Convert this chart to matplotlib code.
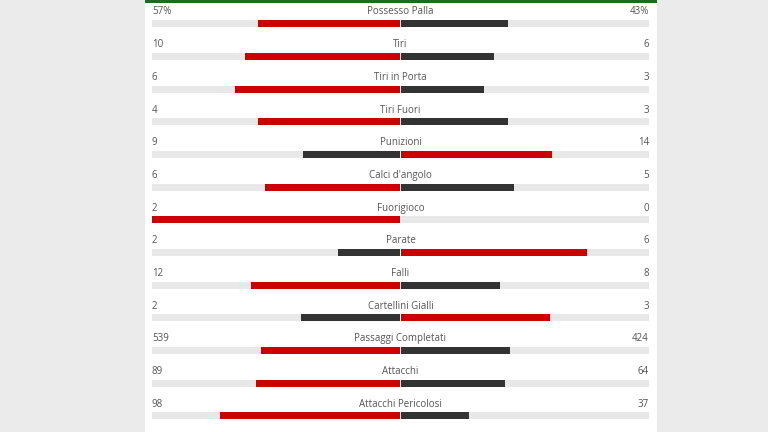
import matplotlib
matplotlib.use("Agg")
import matplotlib.pyplot as plt
from matplotlib.patches import Rectangle

categories = ["Possesso Palla", "Tiri", "Tiri in Porta", "Tiri Fuori", "Punizioni",
              "Calci d'angolo", "Fuorigioco", "Parate", "Falli", "Cartellini Gialli",
              "Passaggi Completati", "Attacchi", "Attacchi Pericolosi"]
home_values = [57, 10, 6, 4, 9, 6, 2, 2, 12, 2, 539, 89, 98]
away_values = [43, 6, 3, 3, 14, 5, 0, 6, 8, 3, 424, 64, 37]
home_labels = ["57%", "10", "6", "4", "9", "6", "2", "2", "12", "2", "539", "89", "98"]
away_labels = ["43%", "6", "3", "3", "14", "5", "0", "6", "8", "3", "424", "64", "37"]

RED = "#cc0000"
DARK = "#333333"
TRACK = "#e8e8e8"
OUTER = "#ebebeb"
GREEN = "#1e6b1e"
TEXT = "#555555"

W, H = 768, 432
fig = plt.figure(figsize=(W / 100, H / 100), dpi=100)
fig.patch.set_facecolor(OUTER)

# background panel
bg = fig.add_axes([0, 0, 1, 1])
bg.set_xlim(0, W)
bg.set_ylim(H, 0)
bg.axis("off")
bg.add_patch(Rectangle((145, 0), 512, H, facecolor="white", edgecolor="none"))
bg.add_patch(Rectangle((145, 0), 512, 2.5, facecolor=GREEN, edgecolor="none"))

# data axes over the track area
x0, x1 = 152, 649
ax = fig.add_axes([x0 / W, 0, (x1 - x0) / W, 1])
ax.set_facecolor("none")
ax.axis("off")
row_h = 32.67
top_off = 23.8
ax.set_xlim(-1.0, 1.0)
ax.set_ylim((H - top_off) / row_h, -top_off / row_h)

gap = 0.004
bh = 7 / row_h
n = len(categories)
ys = list(range(n))

ax.barh(ys, [-(1 - gap)] * n, left=-gap, height=bh, color=TRACK)
ax.barh(ys, [1 - gap] * n, left=gap, height=bh, color=TRACK)

for i, (h, a) in enumerate(zip(home_values, away_values)):
    tot = h + a
    hf = h / tot if tot else 0
    af = a / tot if tot else 0
    hc = RED if h >= a else DARK
    ac = RED if a > h else DARK
    if hf > 0:
        ax.barh(i, -hf * (1 - gap), left=-gap, height=bh, color=hc)
    if af > 0:
        ax.barh(i, af * (1 - gap), left=gap, height=bh, color=ac)
    ty = i - 11.8 / row_h
    ax.text(-1.0, ty, home_labels[i], ha="left", va="center", fontsize=7,
            color=TEXT, family="Open Sans")
    ax.text(1.0, ty, away_labels[i], ha="right", va="center", fontsize=7,
            color=TEXT, family="Open Sans")
    ax.text(0, ty, categories[i], ha="center", va="center", fontsize=7,
            color=TEXT, family="Open Sans")

fig.savefig("out.png", dpi=100, facecolor=fig.get_facecolor())
